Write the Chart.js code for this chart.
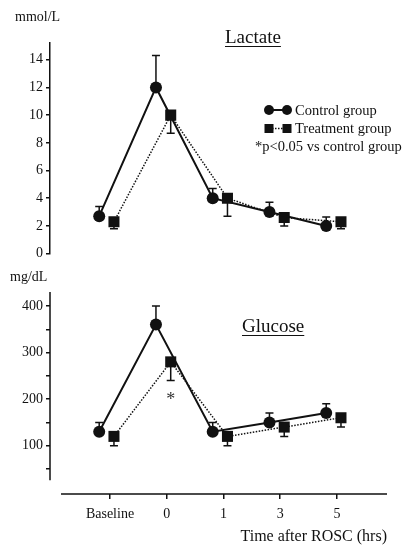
<!DOCTYPE html>
<html>
<head>
<meta charset="utf-8">
<script src="https://cdn.jsdelivr.net/npm/chart.js@4.4.1/dist/chart.umd.min.js"></script>
<style>
  html, body { margin: 0; padding: 0; background: #fff; }
  #wrap { position: relative; width: 406px; height: 547px; overflow: hidden;
          font-family: 'Liberation Serif', 'Times New Roman', serif; color: #111; }
  #wrap canvas { position: absolute; left: 0; }
  .txt { position: absolute; white-space: nowrap; line-height: 1; }
  .title { font-size: 19px; text-decoration: underline; text-underline-offset: 3px; text-decoration-thickness: 1px; }
  .leg { font-size: 14.5px; }
</style>
</head>
<body>
<div id="wrap">
  <canvas id="lactateChart" width="406" height="265" style="top:0"></canvas>
  <canvas id="glucoseChart" width="406" height="277" style="top:270px"></canvas>

  <div class="txt" style="left:15px;top:10px;font-size:14px">mmol/L</div>
  <div class="txt title" style="left:225px;top:27px">Lactate</div>

  <svg style="position:absolute;left:263px;top:104px" width="30" height="12">
    <line x1="6" y1="6" x2="24" y2="6" stroke="#111" stroke-width="2"/>
    <circle cx="6" cy="6" r="5" fill="#111"/>
    <circle cx="24" cy="6" r="5" fill="#111"/>
  </svg>
  <div class="txt leg" style="left:295px;top:103px">Control group</div>
  <svg style="position:absolute;left:263px;top:123px" width="30" height="11">
    <line x1="6" y1="5.5" x2="24" y2="5.5" stroke="#111" stroke-width="1.5" stroke-dasharray="1.5,1.5"/>
    <rect x="1.5" y="1" width="9" height="9" fill="#111"/>
    <rect x="19.5" y="1" width="9" height="9" fill="#111"/>
  </svg>
  <div class="txt leg" style="left:295px;top:121px">Treatment group</div>
  <div class="txt leg" style="left:255px;top:139px">*p&lt;0.05 vs control group</div>

  <div class="txt" style="left:10px;top:270px;font-size:14px">mg/dL</div>
  <div class="txt title" style="left:242px;top:316px">Glucose</div>
</div>

<script>
const categories = ['Baseline', '0', '1', '3', '5'];

// Lactate (mmol/L): control errors drawn up, treatment errors drawn down
const lactateControl = [2.7, 12.0, 4.0, 3.0, 2.0];
const lactateControlErr = [0.7, 2.3, 0.7, 0.7, 0.65];
const lactateTreatment = [2.3, 10.0, 4.0, 2.6, 2.3];
const lactateTreatmentErr = [0.5, 1.3, 1.3, 0.6, 0.5];
const lactateTickValues = [0, 1, 2, 3, 4, 5, 6, 7, 8, 9, 10, 11, 12, 13, 14];
const lactateTickLabels = ['0', '', '2', '', '4', '', '6', '', '8', '', '10', '', '12', '', '14'];

// Glucose (mg/dL)
const glucoseControl = [130, 360, 130, 150, 170];
const glucoseControlErr = [20, 40, 20, 20, 20];
const glucoseTreatment = [120, 280, 120, 140, 160];
const glucoseTreatmentErr = [20, 40, 20, 20, 20];
const glucoseSignificant = [false, true, false, false, false];
const glucoseTickValues = [50, 100, 150, 200, 250, 300, 350, 400];
const glucoseTickLabels = ['', '100', '', '200', '', '300', '', '400'];

const FONT = "'Liberation Serif', 'Times New Roman', serif";
const INK = '#111';
const X_MIN = -1.057, X_MAX = 4.881;
const CONTROL_SHIFT = -0.19, TREATMENT_SHIFT = 0.07;

const toPoints = (vals, shift) => vals.map((v, i) => ({ x: i + shift, y: v }));

function makeDatasets(ctrl, ctrlErr, trt, trtErr) {
    return [{
        label: 'Control group',
        data: toPoints(ctrl, CONTROL_SHIFT),
        errors: ctrlErr, errDir: 1,
        borderColor: INK, backgroundColor: INK,
        borderWidth: 2,
        pointStyle: 'circle', pointRadius: 6, pointBorderWidth: 0,
        pointBackgroundColor: INK
    }, {
        label: 'Treatment group',
        data: toPoints(trt, TREATMENT_SHIFT),
        errors: trtErr, errDir: -1,
        borderColor: INK, backgroundColor: INK,
        borderWidth: 1.5, borderDash: [1.5, 1.5],
        pointStyle: 'rect', pointRadius: 7.8, pointBorderWidth: 0,
        pointBackgroundColor: INK
    }];
}

// error bars with a cap at the free end
const errorBars = {
    id: 'errorBars',
    beforeDatasetsDraw(chart) {
        const { ctx } = chart;
        const xs = chart.scales.x, ys = chart.scales.y;
        ctx.save();
        ctx.strokeStyle = INK;
        ctx.lineWidth = 1.5;
        chart.data.datasets.forEach(ds => {
            ds.data.forEach((p, i) => {
                const px = xs.getPixelForValue(p.x);
                const py = ys.getPixelForValue(p.y);
                const pe = ys.getPixelForValue(p.y + ds.errDir * ds.errors[i]);
                ctx.beginPath();
                ctx.moveTo(px, py); ctx.lineTo(px, pe);
                ctx.moveTo(px - 4, pe); ctx.lineTo(px + 4, pe);
                ctx.stroke();
            });
        });
        ctx.restore();
    }
};

// detached axis lines for the glucose panel + significance marks
const axisLines = {
    id: 'axisLines',
    afterDraw(chart, args, opts) {
        if (!opts || !opts.enabled) return;
        const { ctx, chartArea } = chart;
        const xs = chart.scales.x, ys = chart.scales.y;
        ctx.save();
        ctx.strokeStyle = INK;
        ctx.lineWidth = 1.5;
        ctx.beginPath();
        ctx.moveTo(chartArea.left, ys.getPixelForValue(opts.ySpine[1]));
        ctx.lineTo(chartArea.left, ys.getPixelForValue(opts.ySpine[0]));
        ctx.moveTo(xs.getPixelForValue(opts.xLineStart), chartArea.bottom);
        ctx.lineTo(chartArea.right, chartArea.bottom);
        ctx.stroke();

        const trt = chart.data.datasets[1];
        ctx.fillStyle = '#333';
        ctx.font = '18px ' + FONT;
        ctx.textAlign = 'center';
        ctx.textBaseline = 'middle';
        opts.significant.forEach((s, i) => {
            if (!s) return;
            const p = trt.data[i];
            const yv = p.y - trt.errors[i] - opts.starGap;
            ctx.fillText('*', xs.getPixelForValue(p.x), ys.getPixelForValue(yv) + 3);
        });
        ctx.restore();
    }
};

function yScale(min, max, tickValues, tickLabels, showBorder) {
    return {
        type: 'linear', min: min, max: max,
        afterBuildTicks: s => { s.ticks = tickValues.map(v => ({ value: v })); },
        afterFit: s => { s.width = 50; },
        grid: { drawOnChartArea: false, drawTicks: true, tickLength: 4, color: INK, lineWidth: 1.5 },
        border: { display: showBorder, color: INK, width: 1.5 },
        ticks: {
            padding: 3, color: INK, font: { family: FONT, size: 14 },
            callback: (v, i) => tickLabels[i]
        }
    };
}

const lactateChart = new Chart(document.getElementById('lactateChart'), {
    type: 'line',
    data: { datasets: makeDatasets(lactateControl, lactateControlErr, lactateTreatment, lactateTreatmentErr) },
    options: {
        responsive: false, animation: false, devicePixelRatio: 1,
        layout: { padding: { top: 43, bottom: 9.3, right: 19, left: 0 } },
        scales: {
            x: { type: 'linear', min: X_MIN, max: X_MAX, display: false },
            y: yScale(0, 15.21, lactateTickValues, lactateTickLabels, true)
        },
        plugins: { legend: { display: false }, tooltip: { enabled: false } }
    },
    plugins: [errorBars]
});

const glucoseChart = new Chart(document.getElementById('glucoseChart'), {
    type: 'line',
    data: { datasets: makeDatasets(glucoseControl, glucoseControlErr, glucoseTreatment, glucoseTreatmentErr) },
    options: {
        responsive: false, animation: false, devicePixelRatio: 1,
        layout: { padding: { top: 22, bottom: 0, right: 19, left: 0 } },
        scales: {
            x: {
                type: 'linear', min: X_MIN, max: X_MAX,
                afterBuildTicks: s => { s.ticks = categories.map((c, i) => ({ value: i })); },
                afterFit: s => { s.height = 53; },
                grid: { drawOnChartArea: false, drawTicks: true, tickLength: 5, color: INK, lineWidth: 1.5 },
                border: { display: false },
                ticks: {
                    padding: 7, color: INK, font: { family: FONT, size: 14 },
                    maxRotation: 0, autoSkip: false,
                    callback: (v, i) => categories[i]
                },
                title: {
                    display: true, text: 'Time after ROSC (hrs)', align: 'end', color: INK,
                    font: { family: FONT, size: 16 }, padding: { top: 0, bottom: 1 }
                }
            },
            y: yScale(-3.7, 430, glucoseTickValues, glucoseTickLabels, false)
        },
        plugins: {
            legend: { display: false }, tooltip: { enabled: false },
            axisLines: { enabled: true, ySpine: [26, 430], xLineStart: -0.863, significant: glucoseSignificant, starGap: 35 }
        }
    },
    plugins: [errorBars, axisLines]
});
</script>
</body>
</html>
